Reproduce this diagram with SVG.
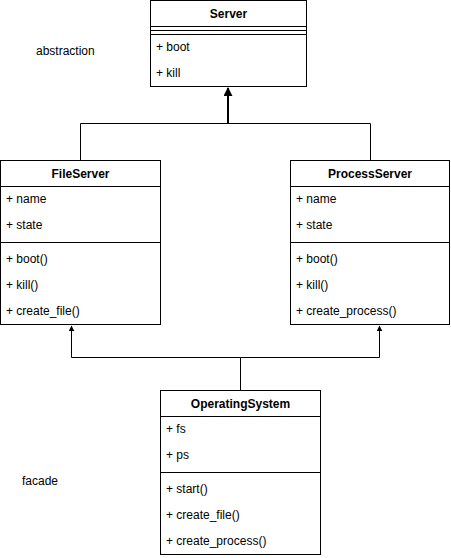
<svg xmlns="http://www.w3.org/2000/svg" width="451" height="558" viewBox="0 0 451 558">
  <style>
    .box { fill: #ffffff; stroke: #000000; stroke-width: 1; }
    .sep { stroke: #000000; stroke-width: 1; fill: none; }
    .title { font-family: "Liberation Sans", Arial, sans-serif; font-size: 12px; font-weight: bold; fill: #000000; text-anchor: middle; dominant-baseline: central; }
    .item { font-family: "Liberation Sans", Arial, sans-serif; font-size: 12px; fill: #000000; dominant-baseline: central; }
    .note { font-family: "Liberation Sans", Arial, sans-serif; font-size: 12px; fill: #000000; dominant-baseline: central; }
    .edge { stroke: #000000; stroke-width: 1; fill: none; }
    .edge-bold { stroke: #000000; stroke-width: 2; fill: none; }
  </style>
  <defs>
    <marker id="arrow" viewBox="0 0 10 10" refX="9" refY="5" markerWidth="6" markerHeight="6" orient="auto" markerUnits="userSpaceOnUse">
      <path d="M0,0 L10,5 L0,10 Z" fill="#000000"/>
    </marker>
    <marker id="arrow-bold" viewBox="0 0 10 10" refX="9" refY="5" markerWidth="9" markerHeight="9" orient="auto" markerUnits="userSpaceOnUse">
      <path d="M0,0 L10,5 L0,10 Z" fill="#000000"/>
    </marker>
  </defs>

  <rect width="451" height="558" fill="#ffffff"/>

  <!-- connectors -->
  <g id="connectors">
    <path class="edge-bold" d="M228,123 L228,88" marker-end="url(#arrow-bold)"/>
    <path class="edge" d="M80.5,160 L80.5,123.5 L370.5,123.5 L370.5,160"/>
    <path class="edge" d="M240.5,390 L240.5,357.5 L71.5,357.5 L71.5,326" marker-end="url(#arrow)"/>
    <path class="edge" d="M240.5,357.5 L379.5,357.5 L379.5,326" marker-end="url(#arrow)"/>
  </g>

  <!-- Server -->
  <g id="server">
    <rect class="box" x="150.5" y="0.5" width="156" height="86"/>
    <line class="sep" x1="150.5" y1="26.5" x2="306.5" y2="26.5"/>
    <line class="sep" x1="150.5" y1="30.5" x2="306.5" y2="30.5"/>
    <line class="sep" x1="150.5" y1="34.5" x2="306.5" y2="34.5"/>
    <text class="title" x="228.5" y="14">Server</text>
    <text class="item" x="156" y="47">+ boot</text>
    <text class="item" x="156" y="73">+ kill</text>
  </g>

  <!-- FileServer -->
  <g id="fileserver">
    <rect class="box" x="0.5" y="160.5" width="160" height="164"/>
    <line class="sep" x1="0.5" y1="186.5" x2="160.5" y2="186.5"/>
    <line class="sep" x1="0.5" y1="242.5" x2="160.5" y2="242.5"/>
    <text class="title" x="80.5" y="173.5">FileServer</text>
    <text class="item" x="6" y="199">+ name</text>
    <text class="item" x="6" y="225">+ state</text>
    <text class="item" x="6" y="259">+ boot()</text>
    <text class="item" x="6" y="285">+ kill()</text>
    <text class="item" x="6" y="311">+ create_file()</text>
  </g>

  <!-- ProcessServer -->
  <g id="processserver">
    <rect class="box" x="290.5" y="160.5" width="159" height="164"/>
    <line class="sep" x1="290.5" y1="186.5" x2="449.5" y2="186.5"/>
    <line class="sep" x1="290.5" y1="242.5" x2="449.5" y2="242.5"/>
    <text class="title" x="370" y="173.5">ProcessServer</text>
    <text class="item" x="296" y="199">+ name</text>
    <text class="item" x="296" y="225">+ state</text>
    <text class="item" x="296" y="259">+ boot()</text>
    <text class="item" x="296" y="285">+ kill()</text>
    <text class="item" x="296" y="311">+ create_process()</text>
  </g>

  <!-- OperatingSystem -->
  <g id="operatingsystem">
    <rect class="box" x="160.5" y="390.5" width="160" height="164"/>
    <line class="sep" x1="160.5" y1="416.5" x2="320.5" y2="416.5"/>
    <line class="sep" x1="160.5" y1="472.5" x2="320.5" y2="472.5"/>
    <text class="title" x="240.5" y="403.5">OperatingSystem</text>
    <text class="item" x="166" y="429">+ fs</text>
    <text class="item" x="166" y="455">+ ps</text>
    <text class="item" x="166" y="489">+ start()</text>
    <text class="item" x="166" y="515">+ create_file()</text>
    <text class="item" x="166" y="541">+ create_process()</text>
  </g>

  <!-- free labels -->
  <g id="label-abstraction">
    <text class="note" x="36" y="51">abstraction</text>
  </g>
  <g id="label-facade">
    <text class="note" x="22" y="481">facade</text>
  </g>
</svg>
